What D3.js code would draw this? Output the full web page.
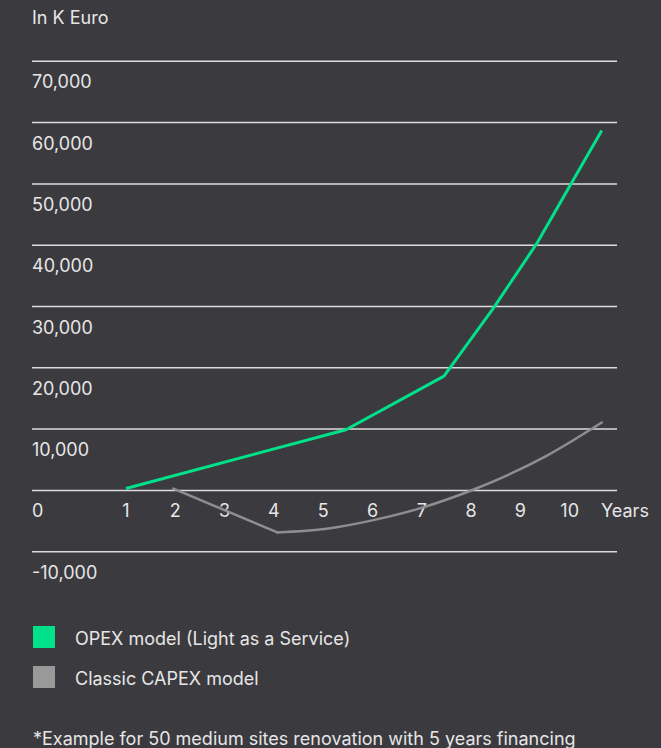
<!DOCTYPE html>
<html>
<head>
<meta charset="utf-8">
<script src="https://cdn.jsdelivr.net/npm/d3@7"></script>
<style>
  html, body { margin: 0; padding: 0; background: #3b3a3f; }
  svg { display: block; }
  text { font-family: Inter, "Noto Sans", sans-serif; fill: #e6e6e6; }
</style>
</head>
<body>
<script>
// ---- data ----
const yTicks = [70000, 60000, 50000, 40000, 30000, 20000, 10000, 0, -10000];
const xTicks = [1, 2, 3, 4, 5, 6, 7, 8, 9, 10];
const xUnitLabel = "Years";
const yUnitLabel = "In K Euro";

const opexYears  = [1, 5.46, 7.45, 8.45, 9.33, 10.04, 10.65];
const opexValues = [300, 9900, 18650, 29700, 40250, 50200, 58700];

const capexYears  = [1.96, 4.07, 5.07, 6.02, 6.96, 8.04, 9.53, 10.65];
const capexValues = [300, -6850, -6250, -4850, -2930, 100, 5630, 11070];

const seriesNames = ["OPEX model (Light as a Service)", "Classic CAPEX model"];
const seriesColors = ["#00e18a", "#8e8e8e"];
const legendColors = ["#00e18a", "#999999"];
const footnote = "*Example for 50 medium sites renovation with 5 years financing";

// ---- layout ----
const W = 661, H = 748;
const FS = 18;
const svg = d3.select("body").append("svg").attr("width", W).attr("height", H);
svg.append("rect").attr("width", W).attr("height", H).attr("fill", "#3b3a3f");

const x = d3.scaleLinear().domain([1, 10]).range([126, 569.7]);
const y = d3.scaleLinear().domain([-10000, 70000]).range([551.7, 61.3]);
const gridX0 = 32, gridX1 = 617;
const fmt = v => d3.format(",")(v).replace("\u2212", "-");

// y title
svg.append("text").attr("x", 32).attr("y", 24).attr("font-size", FS).text(yUnitLabel);

// gridlines + labels
const g = svg.append("g");
yTicks.forEach(v => {
  g.append("line")
    .attr("x1", gridX0).attr("x2", gridX1)
    .attr("y1", y(v)).attr("y2", y(v))
    .attr("stroke", "#dcdcdc").attr("stroke-width", 1.5);
  g.append("text")
    .attr("x", 32).attr("y", y(v) + 27)
    .attr("font-size", FS)
    .text(fmt(v));
});

// x labels
xTicks.forEach(t => {
  g.append("text")
    .attr("x", x(t)).attr("y", y(0) + 27)
    .attr("text-anchor", "middle")
    .attr("font-size", FS)
    .text(t);
});
g.append("text").attr("x", 601).attr("y", y(0) + 27).attr("font-size", FS).text(xUnitLabel);

// lines
const line = d3.line().x(d => x(d[0])).y(d => y(d[1]));
const smooth = d3.line().x(d => x(d[0])).y(d => y(d[1])).curve(d3.curveMonotoneX);

const capexPts = capexYears.map((t, i) => [t, capexValues[i]]);
[[line, capexPts.slice(0, 2)], [smooth, capexPts.slice(1)]].forEach(([gen, pts]) => {
  svg.append("path")
    .datum(pts)
    .attr("fill", "none").attr("stroke", seriesColors[1]).attr("stroke-width", 2.5)
    .attr("stroke-linejoin", "round").attr("stroke-linecap", "round")
    .attr("d", gen);
});

svg.append("path")
  .datum(opexYears.map((t, i) => [t, opexValues[i]]))
  .attr("fill", "none").attr("stroke", seriesColors[0]).attr("stroke-width", 3)
  .attr("stroke-linejoin", "round")
  .attr("d", line);

// legend
seriesNames.forEach((n, i) => {
  const ly = 626 + i * 40;
  svg.append("rect").attr("x", 33).attr("y", ly).attr("width", 22).attr("height", 22)
    .attr("fill", legendColors[i]);
  svg.append("text").attr("x", 75).attr("y", ly + 19).attr("font-size", FS).text(n);
});

// footnote
svg.append("text").attr("x", 33).attr("y", 745).attr("font-size", FS).text(footnote);
</script>
</body>
</html>
